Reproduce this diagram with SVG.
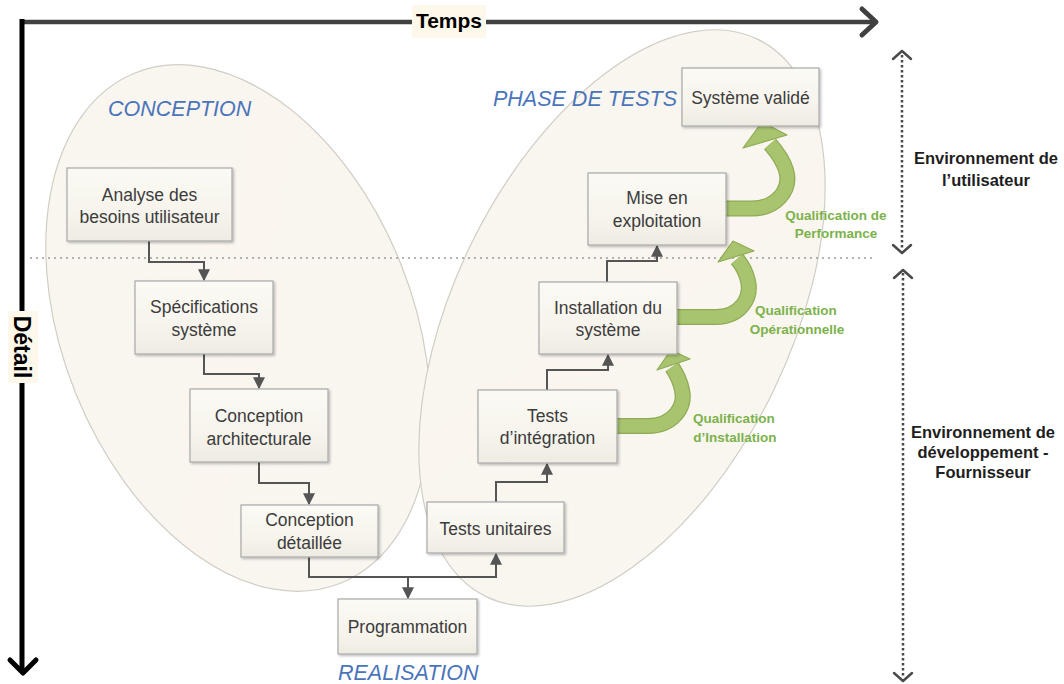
<svg xmlns="http://www.w3.org/2000/svg" width="1064" height="684" viewBox="0 0 1064 684">
<defs>
  <linearGradient id="boxg" x1="0" y1="0" x2="0" y2="1">
    <stop offset="0" stop-color="#fbfaf4"/>
    <stop offset="0.6" stop-color="#f6f4ec"/>
    <stop offset="1" stop-color="#eeece2"/>
  </linearGradient>
  <linearGradient id="ellg" x1="0" y1="0" x2="1" y2="1">
    <stop offset="0" stop-color="#f8f7f0"/>
    <stop offset="0.5" stop-color="#faf5ef"/>
    <stop offset="1" stop-color="#f8f7f0"/>
  </linearGradient>
  <filter id="sh" x="-10%" y="-10%" width="130%" height="130%">
    <feDropShadow dx="1.5" dy="1.5" stdDeviation="1.2" flood-color="#000" flood-opacity="0.25"/>
  </filter>
  <marker id="ah" viewBox="0 0 10 10" refX="9" refY="5" markerWidth="12" markerHeight="12" markerUnits="userSpaceOnUse" orient="auto">
    <path d="M0,0 L10,5 L0,10 Z" fill="#555555"/>
  </marker>
  <style>
    .ell { fill: url(#ellg); stroke: #d0cec4; stroke-width: 1.2; }
    .box { fill: url(#boxg); stroke: #a8a8a8; stroke-width: 1.2; filter: url(#sh); }
    .bt { font-family: "Liberation Sans", Arial, sans-serif; font-size: 17.5px; fill: #3c3c3c; text-anchor: middle; }
    .phase { font-family: "Liberation Sans", Arial, sans-serif; font-size: 21.5px; font-style: italic; fill: #4a74bb; }
    .gt { font-family: "Liberation Sans", Arial, sans-serif; font-size: 13.5px; font-weight: bold; fill: #7cb24b; text-anchor: middle; }
    .rt { font-family: "Liberation Sans", Arial, sans-serif; font-size: 16.5px; font-weight: bold; fill: #1e1e1e; text-anchor: middle; }
    .ax { font-family: "Liberation Sans", Arial, sans-serif; font-size: 21px; font-weight: bold; fill: #000; text-anchor: middle; }
    .conn { fill: none; stroke: #555555; stroke-width: 2; marker-end: url(#ah); }
    .gout { fill: none; stroke: #8eab55; stroke-width: 16; }
    .gin { fill: none; stroke: #a8c46f; stroke-width: 13.5; }
    .ghead { fill: #a8c46f; stroke: #8eab55; stroke-width: 1.2; stroke-linejoin: round; }
    .dot { fill: none; stroke: #4a4a4a; stroke-width: 2.5; stroke-dasharray: 2.5 2.5; }
    .chev { fill: none; stroke: #4a4a4a; stroke-width: 2.5; stroke-linecap: round; stroke-linejoin: round; }
  </style>
</defs>
<rect width="1064" height="684" fill="#ffffff"/>

<!-- phase ellipses -->
<g id="conception-zone">
  <ellipse class="ell" cx="238" cy="328" rx="175" ry="275" transform="rotate(-22 238 328)"/>
  <text class="phase" x="108" y="116">CONCEPTION</text>
</g>
<g id="tests-zone">
  <ellipse class="ell" cx="622" cy="318" rx="168" ry="310" transform="rotate(26 622 318)"/>
  <text class="phase" x="493" y="106">PHASE DE TESTS</text>
</g>

<!-- environment separator -->
<line x1="30" y1="258" x2="876" y2="258" stroke="#9a9a9a" stroke-width="1.5" stroke-dasharray="2 4"/>

<!-- axes -->
<g id="axis-time">
  <line x1="22" y1="22" x2="874" y2="22" stroke="#404040" stroke-width="4.5"/>
  <polyline points="862,9 876,22 862,35" fill="none" stroke="#404040" stroke-width="5" stroke-linecap="round" stroke-linejoin="round"/>
  <rect x="412" y="5" width="74" height="33" fill="#fdf8ea"/>
  <text class="ax" x="449" y="28">Temps</text>
</g>
<g id="axis-detail">
  <line x1="22" y1="19" x2="22" y2="670" stroke="#000" stroke-width="5"/>
  <polyline points="10,660 23,673 36,660" fill="none" stroke="#000" stroke-width="5" stroke-linecap="round" stroke-linejoin="round"/>
  <rect x="8" y="311" width="30" height="72" fill="#fdf8ea"/>
  <text class="ax" x="0" y="0" transform="translate(14 347) rotate(90)" style="font-size:23px">Détail</text>
</g>

<!-- connectors -->
<g id="connectors">
  <path class="conn" d="M149,241 V262 H204 V280"/>
  <path class="conn" d="M204,354 V374 H259 V388"/>
  <path class="conn" d="M259,462 V483 H309 V504"/>
  <path class="conn" d="M309,557 V577 H496 V554"/>
  <path class="conn" d="M408,577 V598"/>
  <path class="conn" d="M496,502 V482 H547 V464"/>
  <path class="conn" d="M547,390 V370 H608 V355"/>
  <path class="conn" d="M607,282 V261 H657 V246"/>
</g>

<!-- green qualification arrows -->
<g id="qual-installation">
  <path class="gout" d="M617,426 L648,426 C672,426 686,408 682,390 C680,380 676,373 672,367"/>
  <path class="gin" d="M617,426 L648,426 C672,426 686,408 682,390 C680,380 676,373 672,367"/>
  <polygon class="ghead" points="657,370 690,359 671,350"/>
  <text class="gt" x="734" y="423">Qualification</text>
  <text class="gt" x="735" y="442">d’Installation</text>
</g>
<g id="qual-operationnelle">
  <path class="gout" d="M677,317 L716,317 C740,317 752,298 748,281 C746,272 742,265 737,259"/>
  <path class="gin" d="M677,317 L716,317 C740,317 752,298 748,281 C746,272 742,265 737,259"/>
  <polygon class="ghead" points="718,262 754,251 733,241"/>
  <text class="gt" x="796" y="315">Qualification</text>
  <text class="gt" x="797" y="334">Opérationnelle</text>
</g>
<g id="qual-performance">
  <path class="gout" d="M726,208.5 L752,208.5 C776,208.5 792,190 786,170 C783,160 777,152 770,144"/>
  <path class="gin" d="M726,208.5 L752,208.5 C776,208.5 792,190 786,170 C783,160 777,152 770,144"/>
  <polygon class="ghead" points="743,148 787,135 762,122"/>
  <text class="gt" x="836" y="220">Qualification de</text>
  <text class="gt" x="836" y="238">Performance</text>
</g>

<!-- nodes -->
<g id="n-analyse">
  <rect class="box" x="67" y="168" width="165" height="73"/>
  <text class="bt" x="149.5" y="201">Analyse des</text>
  <text class="bt" x="149.5" y="223">besoins utilisateur</text>
</g>
<g id="n-specifications">
  <rect class="box" x="135" y="281" width="138" height="73"/>
  <text class="bt" x="204" y="313">Spécifications</text>
  <text class="bt" x="204" y="336">système</text>
</g>
<g id="n-architecture">
  <rect class="box" x="190" y="389" width="138" height="73"/>
  <text class="bt" x="259" y="422">Conception</text>
  <text class="bt" x="259" y="445">architecturale</text>
</g>
<g id="n-detaillee">
  <rect class="box" x="241" y="505" width="137" height="52"/>
  <text class="bt" x="309.5" y="526">Conception</text>
  <text class="bt" x="309.5" y="549">détaillée</text>
</g>
<g id="n-programmation">
  <rect class="box" x="338" y="599" width="139" height="55"/>
  <text class="bt" x="407.5" y="633">Programmation</text>
</g>
<g id="n-tests-unitaires">
  <rect class="box" x="427" y="502" width="137" height="51"/>
  <text class="bt" x="495.5" y="535">Tests unitaires</text>
</g>
<g id="n-tests-integration">
  <rect class="box" x="478" y="390" width="139" height="73"/>
  <text class="bt" x="547.5" y="422">Tests</text>
  <text class="bt" x="547.5" y="444">d’intégration</text>
</g>
<g id="n-installation">
  <rect class="box" x="539" y="282" width="138" height="72"/>
  <text class="bt" x="608" y="314">Installation du</text>
  <text class="bt" x="608" y="336">système</text>
</g>
<g id="n-exploitation">
  <rect class="box" x="588" y="173" width="138" height="72"/>
  <text class="bt" x="657" y="204">Mise en</text>
  <text class="bt" x="657" y="227">exploitation</text>
</g>
<g id="n-valide">
  <rect class="box" x="682" y="68" width="137" height="58"/>
  <text class="bt" x="750.5" y="104">Système validé</text>
</g>

<text class="phase" x="338" y="680">REALISATION</text>

<!-- environment ranges -->
<g id="env-utilisateur">
  <line class="dot" x1="902" y1="55" x2="902" y2="250"/>
  <polyline class="chev" points="893,59 902,51 911,59"/>
  <polyline class="chev" points="893,245 902,253 911,245"/>
  <text class="rt" x="986" y="164">Environnement de</text>
  <text class="rt" x="986" y="186">l’utilisateur</text>
</g>
<g id="env-developpement">
  <line class="dot" x1="903" y1="273" x2="903" y2="678"/>
  <polyline class="chev" points="894,278 903,270 912,278"/>
  <polyline class="chev" points="894,673 903,681 912,673"/>
  <text class="rt" x="983" y="438">Environnement de</text>
  <text class="rt" x="983" y="458">développement -</text>
  <text class="rt" x="983" y="478">Fournisseur</text>
</g>
</svg>
